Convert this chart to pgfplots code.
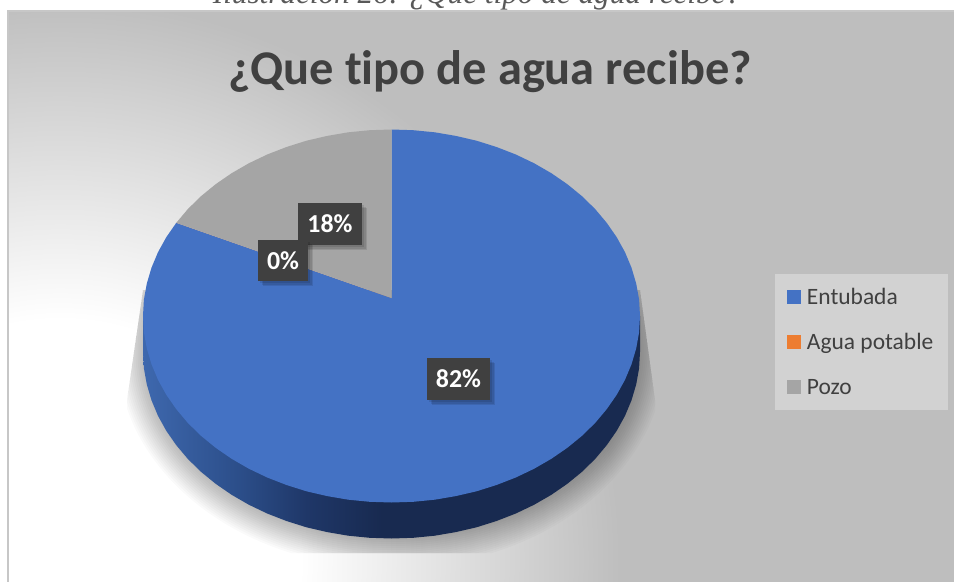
\documentclass[border=0pt]{standalone}
\usepackage{pgfplots}
\pgfplotsset{compat=1.18}
\usepackage{fontspec}
\setmainfont[Ligatures=NoCommon]{Carlito}
\newfontfamily\capfont{Liberation Serif}
\definecolor{bgdark}{HTML}{BEBEBE}
\definecolor{legbg}{HTML}{D2D2D2}
\definecolor{piblue}{HTML}{4472C4}
\definecolor{pigray}{HTML}{A5A5A5}
\definecolor{piorange}{HTML}{ED7D31}
\definecolor{txt}{HTML}{404040}
\definecolor{lblbox}{HTML}{404040}
\definecolor{wa}{HTML}{3E68AE}
\definecolor{wb}{HTML}{2B4D88}
\definecolor{wc}{HTML}{1F3768}
\definecolor{we}{HTML}{182A50}
\pgfdeclareradialshading{chartbg}{\pgfpoint{0bp}{0bp}}{
  color(0bp)=(white); color(9bp)=(white); color(21bp)=(bgdark); color(50bp)=(bgdark)}
\pgfdeclarehorizontalshading{piewall}{100bp}{
  color(0bp)=(wa); color(25bp)=(wa); color(35bp)=(wb); color(41.5bp)=(wc); color(49bp)=(we); color(100bp)=(we)}
% data label: centre x, centre y, half width, half height, text
\newcommand{\lab}[5]{
    \fill[black, opacity=0.10] (axis cs:#1-#3+2,#2-#4+2) rectangle (axis cs:#1+#3+2,#2+#4+2);
    \fill[black, opacity=0.10] (axis cs:#1-#3+3.5,#2-#4+3.5) rectangle (axis cs:#1+#3+3.5,#2+#4+3.5);
    \fill[black, opacity=0.10] (axis cs:#1-#3+5,#2-#4+5) rectangle (axis cs:#1+#3+5,#2+#4+5);
    \fill[lblbox] (axis cs:#1-#3,#2-#4) rectangle (axis cs:#1+#3,#2+#4);
    \node[text=white, font=\bfseries\fontsize{19.4pt}{22pt}\selectfont] at (axis cs:#1,#2) {#5};
}

\begin{document}
\begin{tikzpicture}
\begin{axis}[
    scale only axis,
    width=715.5pt,
    height=436.5pt,
    xmin=0, xmax=954,
    ymin=0, ymax=582,
    y dir=reverse,
    axis lines=none,
    clip=false,
    legend style={
        at={(axis cs:775,274)}, anchor=north west,
        fill=legbg, draw=none,
        inner xsep=9pt, inner ysep=7pt,
        row sep=13.1pt,
        font=\fontsize{17.6pt}{20pt}\selectfont,
        text=txt,
        nodes={text height=14pt, text depth=2.5pt},
        /tikz/every odd column/.append style={column sep=2.25pt},
    },
    legend cell align=left,
    legend image code/.code={
        \fill[#1] (0pt,-5.25pt) rectangle (10.5pt,5.25pt);
    },
]
% background of the page, the chart area and the caption cut by the top edge
\useasboundingbox (axis cs:0,0) rectangle (axis cs:954,582);
\fill[white] (axis cs:0,0) rectangle (axis cs:954,582);
\node[anchor=base, font=\capfont\itshape\fontsize{23.4pt}{26pt}\selectfont, text=black!65]
    at (axis cs:477,3.5) {Ilustración 26: ¿Que tipo de agua recibe?};
\begin{scope}
    \clip (axis cs:7,11) rectangle (axis cs:954,582);
    \fill[bgdark] (axis cs:7,11) rectangle (axis cs:954,582);
    \path[shading=chartbg] (axis cs:60,560) circle[radius=500pt];
\end{scope}
\draw[black!22, line width=1.2pt] (axis cs:8,582) -- (axis cs:8,11) -- (axis cs:954,11);

% soft shadow under the pie
\begin{scope}
    \clip (axis cs:640,290) -- (axis cs:655,400) -- (axis cs:655,553) -- (axis cs:127,553)
        -- (axis cs:127,400) -- (axis cs:143,290) -- cycle;
    \pgfplotsinvokeforeach{0,...,14}{
        \fill[black, opacity=0.018] (axis cs:391.5,352)
            ellipse[x radius=274-2*#1, y radius=216-2*#1];
    }
\end{scope}

% side wall
\addplot[draw=none, shading=piewall, forget plot] coordinates {
(640.0,316.0) (640.0,352.0) (639.1,368.3) (636.2,384.4) (631.5,400.3) (625.0,415.8) (616.7,430.8)
(606.7,445.2) (595.1,459.0) (581.9,471.9) (567.2,483.9) (551.2,494.9) (534.0,504.8) (515.8,513.5)
(496.5,521.0) (476.5,527.3) (455.8,532.1) (434.7,535.7) (413.2,537.8) (391.5,538.5) (369.8,537.8)
(348.3,535.7) (327.2,532.1) (306.5,527.3) (286.5,521.0) (267.2,513.5) (249.0,504.8) (231.8,494.9)
(215.8,483.9) (201.1,471.9) (187.9,459.0) (176.3,445.2) (166.3,430.8) (158.0,415.8) (151.5,400.3)
(146.8,384.4) (143.9,368.3) (143.0,352.0) (143.0,316.0)
} -- cycle;

% Entubada 82%
\addplot[draw=none, fill=piblue] coordinates {
(391.5,298) (391.5,129.5) (413.2,130.2) (434.7,132.3) (455.8,135.9) (476.5,140.7) (496.5,147.0)
(515.8,154.5) (534.0,163.2) (551.2,173.1) (567.2,184.1) (581.9,196.1) (595.1,209.0) (606.7,222.8)
(616.7,237.2) (625.0,252.2) (631.5,267.7) (636.2,283.6) (639.1,299.7) (640.0,316.0) (639.1,332.3)
(636.2,348.4) (631.5,364.3) (625.0,379.8) (616.7,394.8) (606.7,409.2) (595.1,423.0) (581.9,435.9)
(567.2,447.9) (551.2,458.9) (534.0,468.8) (515.8,477.5) (496.5,485.0) (476.5,491.3) (455.8,496.1)
(434.7,499.7) (413.2,501.8) (391.5,502.5) (369.8,501.8) (348.3,499.7) (327.2,496.1) (306.5,491.3)
(286.5,485.0) (267.2,477.5) (249.0,468.8) (231.8,458.9) (215.8,447.9) (201.1,435.9) (187.9,423.0)
(176.3,409.2) (166.3,394.8) (158.0,379.8) (151.5,364.3) (146.8,348.4) (143.9,332.3) (143.0,316.0)
(143.9,299.7) (146.8,283.6) (151.5,267.7) (158.0,252.2) (166.3,237.2) (176.3,222.8)
} -- cycle;
\addlegendentry{Entubada}

% Agua potable 0%: no area
\addplot[draw=none, fill=piorange] coordinates {(391.5,298) (176.3,222.8)} -- cycle;
\addlegendentry{Agua potable\hspace{7.75pt}}

% Pozo 18%
\addplot[draw=none, fill=pigray] coordinates {
(391.5,298) (176.3,222.8) (187.9,209.0) (201.1,196.1) (215.8,184.1) (231.8,173.1) (249.0,163.2)
(267.2,154.5) (286.5,147.0) (306.5,140.7) (327.2,135.9) (348.3,132.3) (369.8,130.2) (391.5,129.5)
} -- cycle;
\addlegendentry{Pozo}

% title
\node[anchor=center, font=\bfseries\fontsize{36.3pt}{40pt}\selectfont, text=txt]
    at (axis cs:490,72) {¿Que tipo de agua recibe?};

% data labels
\lab{330}{224}{32}{21}{18\%}
\lab{283}{260.5}{25}{20.5}{0\%}
\lab{458.5}{379}{31.5}{21}{82\%}
\end{axis}
\end{tikzpicture}
\end{document}
